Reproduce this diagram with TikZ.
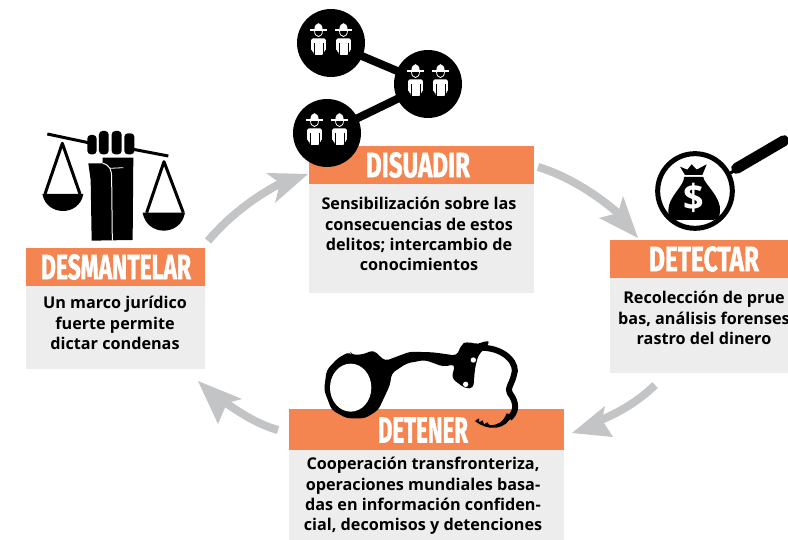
\documentclass[tikz,border=0pt]{standalone}
\usepackage{fontspec}
\usepackage{graphicx}
\setmainfont{Open Sans}
\newfontfamily\headfont[BoldFeatures={FakeBold=1.5}]{Fira Sans}
\definecolor{orangeh}{HTML}{F58550}
\definecolor{greyb}{HTML}{EDEDED}
\definecolor{arrowg}{HTML}{C3C4C6}
\newcommand{\hdtext}[2]{\resizebox{#1pt}{25pt}{\headfont\bfseries #2}}
\tikzset{
  x=1pt,y=-1pt,
  hdbox/.style={fill=orangeh,draw=none,inner sep=0,outer sep=0,text=white,anchor=north west,minimum height=38pt},
  bodybox/.style={fill=greyb,draw=none,inner sep=0,outer sep=0,anchor=north west},
  bodytxt/.style={font=\fontsize{16.2}{20.2}\selectfont\bfseries,align=center,text=black,inner sep=0},
  flow/.style={draw=arrowg,line width=8pt},
  headfill/.style={fill=arrowg,draw=none},
  pers/.pic={
    \fill[white] (-4.2,0) .. controls (-4,-9) and (4,-9) .. (4.2,0) -- cycle;
    \draw[white,line width=1.1pt] (-8.5,0) -- (8.5,0);
    \draw[white,line width=.8pt] (-4,0.5) .. controls (-4,8.5) and (4,8.5) .. (4,0.5);
    \fill[white,rounded corners=1.5pt] (-7.3,8.5) -- (7.3,8.5) -- (7.3,21) -- (5,21) -- (5,25) -- (-5,25) -- (-5,21) -- (-7.3,21) -- cycle;
    \draw[black,line width=.6pt] (-4.7,13) -- (-4.7,25);
    \draw[black,line width=.6pt] (4.7,13) -- (4.7,25);
  },
  pair/.pic={
    \path (-12.5,-13) pic {pers};
    \path (12.5,-13) pic {pers};
  },
}
\begin{document}
\begin{tikzpicture}
\useasboundingbox (0,0) rectangle (788,540);
\fill[white] (0,0) rectangle (788,540);

% group network icon
\coordinate (c1) at (331,43);
\coordinate (c2) at (428,84);
\coordinate (c3) at (327,133);
\draw[line width=8pt] (c1) -- (c2);
\draw[line width=8pt] (c3) -- (c2);

% boxes
\node[bodybox,minimum width=225pt,minimum height=109pt] (disB) at (309,184) {};
\node[hdbox,minimum width=225pt] (disH) at (309,146) {};
\node[bodybox,minimum width=178pt,minimum height=95pt] (detB) at (610,278) {};
\node[hdbox,minimum width=178pt] (detH) at (610,240) {};
\node[bodybox,minimum width=275pt,minimum height=90pt] (tenB) at (289,450) {};
\node[hdbox,minimum width=275pt,minimum height=41pt] (tenH) at (289,409) {};
\node[bodybox,minimum width=179pt,minimum height=83pt] (desB) at (26,286) {};
\node[hdbox,minimum width=179pt] (desH) at (26,248) {};

\fill (c1) circle (34);
\fill (c2) circle (34);
\fill (c3) circle (34);
\path (c1) pic {pair};
\path (c2) pic {pair};
\path (c3) pic {pair};

% header labels
\node[inner sep=0,text=white] (disL) at (418,165) {\hdtext{104}{DISUADIR}};
\node[inner sep=0,text=white] (detL) at (704,259) {\hdtext{110}{DETECTAR}};
\node[inner sep=0,text=white] (tenL) at (423,430) {\hdtext{90}{DETENER}};
\node[inner sep=0,text=white] (desL) at (116,267) {\hdtext{150}{DESMANTELAR}};

% body labels
\node[bodytxt] (disT) at (419,234) {Sensibilización sobre las\\consecuencias de estos\\delitos; intercambio de\\conocimientos};
\node[bodytxt] (detT) at (704,318) {Recolección de prue\\bas, análisis forenses\\rastro del dinero};
\node[bodytxt] (tenT) at (423,496) {Cooperación transfronteriza,\\operaciones mundiales basa-\\das en información confiden-\\cial, decomisos y detenciones};
\node[bodytxt] (desT) at (115,323) {Un marco jurídico\\fuerte permite\\dictar condenas};

% flow arrows
\coordinate (a1s) at (208,241); \coordinate (a1n) at (281,183);
\coordinate (a2s) at (538,167); \coordinate (a2n) at (619,214);
\coordinate (a3s) at (655,385); \coordinate (a3n) at (601,420);
\coordinate (a4s) at (278,430); \coordinate (a4n) at (226,403);
\draw[flow] (a1s) .. controls (230,215) and (255,197) .. (a1n);
\draw[flow] (a2s) .. controls (565,175) and (595,193) .. (a2n);
\draw[flow] (a3s) .. controls (640,400) and (620,412) .. (a3n);
\draw[flow] (a4s) .. controls (260,425) and (243,415) .. (a4n);
\fill[headfill] (308,174) -- (266,173) -- (280,183) -- (275,203) -- cycle;
\fill[headfill] (638,238) -- (623,196) -- (618,213) -- (599,218) -- cycle;
\fill[headfill] (572,433) -- (605,406) -- (602,420) -- (613,437) -- cycle;
\fill[headfill] (198,381) -- (242,399) -- (227,403) -- (218,424) -- cycle;

% scales and fist icon
\begin{scope}[shift={(30,120)},x=0.3333pt,y=-0.3333pt]
  \draw[line width=3pt] (52,42) -- (175,68);
  \draw[line width=3pt] (310,88) -- (415,108);
  \fill[rounded corners=3.5pt] (172,45) rectangle (200,103);
  \fill[rounded corners=3.5pt] (207,33) rectangle (236,103);
  \fill[rounded corners=3.5pt] (245,33) rectangle (275,103);
  \fill[rounded corners=3.5pt] (283,40) rectangle (313,103);
  \fill (218,113) -- (310,113) -- (308,360) -- (185,362) -- (182,180) -- (175,130) -- (218,130) -- cycle;
  \draw[white,line width=1pt] (218,130) .. controls (240,135) and (245,150) .. (245,175) -- (247,362);
  \draw[white,line width=.8pt] (240,145) -- (280,143);
  \draw[line width=3pt,line join=round] (45,222) -- (97,70) -- (150,222);
  \fill (37,222) .. controls (50,290) and (148,290) .. (160,222) -- cycle;
  \draw[line width=3pt,line join=round] (350,278) -- (402,125) -- (460,278);
  \fill (338,278) .. controls (350,350) and (453,350) .. (465,278) -- cycle;
\end{scope}

% magnifier and money bag
\begin{scope}[shift={(640,125)},x=0.3333pt,y=-0.3333pt]
  \draw[line width=5pt,fill=white] (165,198) circle (112);
  \draw[line width=3pt] (265,148) -- (283,137);
  \draw[line width=11pt,line cap=round] (290,130) -- (432,47);
  \fill (120,125) -- (142,134) -- (155,118) -- (170,134) -- (200,118) -- (187,150) -- (135,150) -- cycle;
  \fill (132,156) -- (190,156) .. controls (190,175) and (245,215) .. (240,260) .. controls (238,285) and (225,285) .. (210,285) -- (110,285) .. controls (95,285) and (85,280) .. (85,255) .. controls (85,215) and (135,180) .. (132,156) -- cycle;
  \node[text=white,inner sep=0,font=\fontsize{36}{36}\selectfont\bfseries] (dollar) at (160,218) {\$};
\end{scope}

% handcuffs
\begin{scope}[shift={(310,335)},x=0.3333pt,y=-0.3333pt]
  \fill[rounded corners=4pt] (120,50) -- (125,60) -- (160,58) -- (190,45) -- (225,78) -- (300,50) -- (370,52) -- (440,62) -- (455,28) -- (470,20) -- (505,28) -- (530,15) -- (540,25) -- (505,60) -- (495,100) -- (490,160) -- (465,160) -- (425,130) -- (435,88) -- (400,95) -- (345,75) -- (290,85) -- (245,115) -- (240,150) -- (205,225) -- (165,250) -- (110,250) -- (65,225) -- (42,165) -- (50,105) -- (85,68) -- cycle;
  \fill[white] (122,158) ellipse (62 and 72);
  \draw[black,line width=6pt,line join=round] (515,38) .. controls (590,40) and (625,90) .. (612,120) .. controls (605,150) and (590,160) .. (600,175) .. controls (622,205) and (620,230) .. (598,250);
  \fill (606,240) .. controls (590,285) and (535,290) .. (495,258) -- (507,250) -- (508,262) -- (518,256) -- (522,268) -- (532,262) -- (538,270) .. controls (565,272) and (580,260) .. (590,235) -- cycle;
  \fill[white] (490,75) circle (8);
  \fill[white] (467,148) circle (8);
\end{scope}
\end{tikzpicture}
\end{document}
